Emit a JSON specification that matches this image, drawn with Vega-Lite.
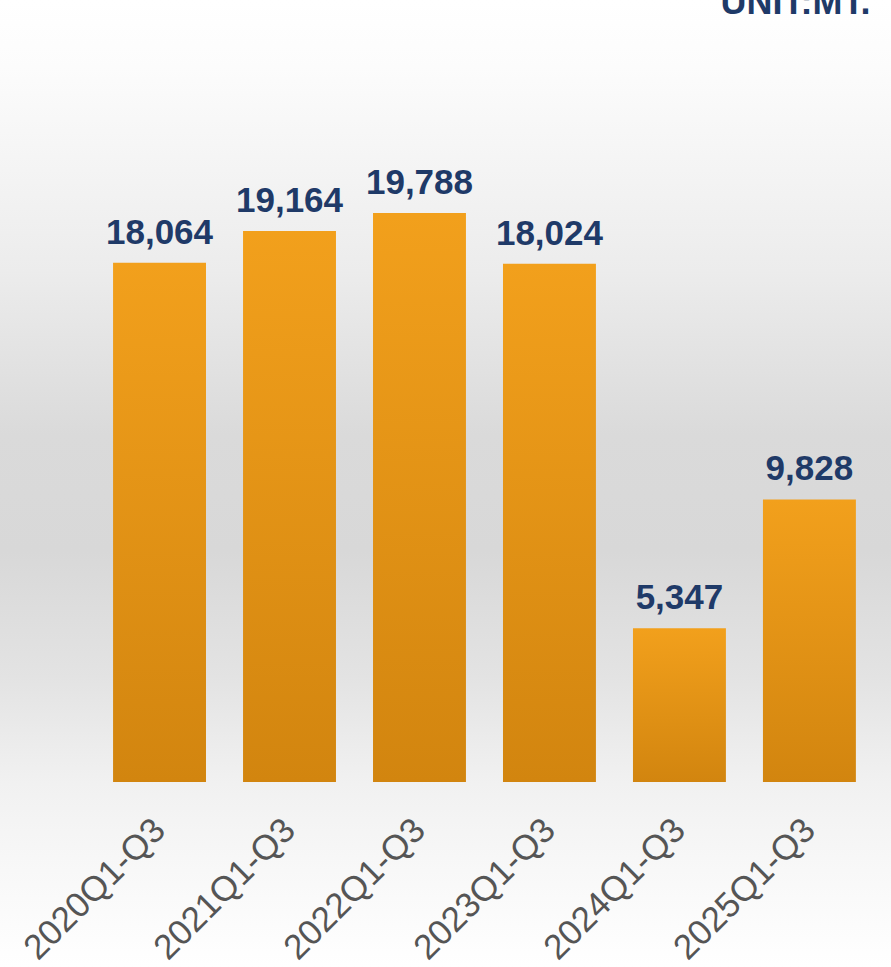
{
  "$schema": "https://vega.github.io/schema/vega-lite/v6.json",
  "width": 891,
  "height": 967,
  "autosize": "none",
  "padding": 0,
  "background": "#ffffff",
  "data": {
    "values": [
      {"period": "2020Q1-Q3", "value": 18064},
      {"period": "2021Q1-Q3", "value": 19164},
      {"period": "2022Q1-Q3", "value": 19788},
      {"period": "2023Q1-Q3", "value": 18024},
      {"period": "2024Q1-Q3", "value": 5347},
      {"period": "2025Q1-Q3", "value": 9828}
    ]
  },
  "encoding": {
    "x": {
      "field": "period",
      "type": "nominal",
      "sort": null,
      "scale": {"paddingInner": 0.285, "paddingOuter": 0.57, "align": 0.763},
      "axis": {
        "title": null,
        "orient": "bottom",
        "offset": -185,
        "domain": false,
        "ticks": false,
        "tickSize": 0,
        "grid": false,
        "labelAngle": -45,
        "labelAlign": "right",
        "labelBaseline": "middle",
        "labelPadding": 42,
        "labelLimit": 0,
        "labelOverlap": false,
        "labelFont": "Liberation Sans",
        "labelFontSize": 35,
        "labelColor": "#555555"
      }
    },
    "y": {
      "field": "value",
      "type": "quantitative",
      "scale": {"domain": [-6435, 27200], "nice": false, "zero": false},
      "axis": null
    }
  },
  "layer": [
    {
      "mark": {
        "type": "bar",
        "fill": {
          "gradient": "linear",
          "x1": 0, "y1": 0, "x2": 0, "y2": 1,
          "stops": [
            {"offset": 0, "color": "#F2A01C"},
            {"offset": 1, "color": "#D2850F"}
          ]
        }
      },
      "encoding": {"y2": {"datum": 0}}
    },
    {
      "mark": {
        "type": "text",
        "baseline": "alphabetic",
        "dy": -19,
        "font": "Liberation Sans",
        "fontSize": 35,
        "fontWeight": "bold",
        "color": "#1F3A68"
      },
      "encoding": {
        "text": {"field": "value", "type": "quantitative", "format": ","}
      }
    },
    {
      "transform": [{"filter": "datum.period == '2025Q1-Q3'"}],
      "mark": {
        "type": "text",
        "align": "right",
        "baseline": "alphabetic",
        "dx": 61,
        "font": "Liberation Sans",
        "fontSize": 36,
        "fontWeight": "bold",
        "color": "#1F3A68"
      },
      "encoding": {
        "y": {"datum": 26700, "type": "quantitative"},
        "text": {"value": "UNIT:MT."}
      }
    }
  ],
  "config": {
    "view": {
      "stroke": null,
      "fill": {
        "gradient": "linear",
        "x1": 0, "y1": 0, "x2": 0, "y2": 1,
        "stops": [
          {"offset": 0, "color": "#ffffff"},
          {"offset": 0.07, "color": "#fcfcfc"},
          {"offset": 0.28, "color": "#ececec"},
          {"offset": 0.45, "color": "#dadada"},
          {"offset": 0.57, "color": "#d8d8d8"},
          {"offset": 0.7, "color": "#e3e3e3"},
          {"offset": 0.81, "color": "#f1f1f1"},
          {"offset": 0.9, "color": "#f8f8f8"},
          {"offset": 1, "color": "#ffffff"}
        ]
      }
    }
  }
}
